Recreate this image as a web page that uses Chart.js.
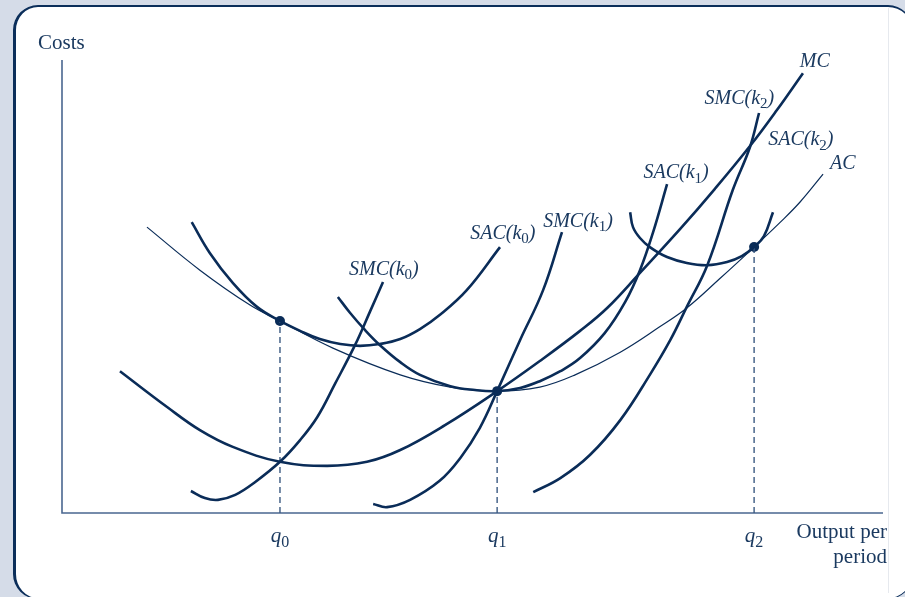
<!DOCTYPE html>
<html>
<head>
<meta charset="utf-8">
<script src="https://cdn.jsdelivr.net/npm/chart.js@4.4.0/dist/chart.umd.min.js"></script>
<style>
  html, body { margin: 0; padding: 0; }
  body { width: 905px; height: 597px; background: #d5dce8; position: relative; overflow: hidden; }
  #panel {
    position: absolute; left: 13px; top: 5px; width: 896px; height: 591px;
    background: #fff; border-style: solid; border-color: #0b2e5a;
    border-width: 2px 1px 1px 3px; border-radius: 25px;
  }
  #edge { position: absolute; left: 888px; top: 8px; width: 1px; height: 585px; background: #e6e9ee; }
  #chart { position: absolute; left: 0; top: 0; }
</style>
</head>
<body>
<div id="panel"></div>
<div id="edge"></div>
<canvas id="chart" width="905" height="597"></canvas>
<script>
// output (0-100) vs cost (0-100)
const acCurve = [[10.35,63.1],[16.8,53.6],[22.9,45.9],[26.55,42.4],[33.0,36.4],[41.2,30.5],[47.3,27.8],[53.0,26.9],[58.2,27.8],[62.5,30.5],[68.0,35.5],[72.8,41.1],[76.1,45.25],[80.1,51.7],[84.3,58.7],[87.5,64.2],[89.9,68.65],[92.7,74.8]];
const mcCurve = [[7.06,31.3],[12.8,23.4],[16.8,18.3],[20.8,14.6],[26.55,11.3],[32.3,10.4],[37.15,11.3],[41.2,13.9],[46.65,19.4],[53.0,26.9],[58.2,33.55],[63.1,40.2],[66.4,45.25],[70.4,53.0],[75.3,62.7],[79.5,71.5],[83.8,81.0],[87.1,89.0],[90.25,97.1]];
const sac0Curve = [[15.8,64.2],[18.0,57.4],[20.8,50.8],[23.75,45.5],[26.55,42.4],[29.0,40.2],[31.4,38.4],[33.9,37.3],[36.3,36.9],[38.7,37.3],[41.2,38.4],[43.6,40.6],[46.0,43.7],[49.3,49.2],[53.35,58.7]];
const smc0Curve = [[15.7,4.86],[17.4,3.3],[19.0,2.9],[21.1,4.0],[23.5,6.8],[26.55,11.3],[29.0,16.1],[31.1,21.2],[33.25,28.5],[35.7,37.1],[37.5,44.4],[39.1,51.0]];
const sac1Curve = [[33.6,47.7],[35.1,44.15],[36.9,40.4],[38.7,37.1],[41.2,33.3],[43.6,30.5],[47.3,28.0],[50.3,27.15],[53.0,26.9],[55.8,27.6],[58.2,29.1],[60.7,31.3],[63.1,34.2],[66.1,39.7],[68.6,46.6],[70.4,53.6],[72.0,62.0],[73.7,72.6]];
const smc1Curve = [[37.9,2.0],[39.6,1.3],[42.4,2.9],[46.0,7.1],[48.5,12.1],[50.9,18.8],[53.0,26.9],[55.8,38.2],[58.6,49.2],[60.9,62.0]];
const sac2Curve = [[69.2,66.4],[69.55,63.1],[70.4,60.7],[71.6,58.7],[73.7,56.5],[76.1,55.2],[78.6,54.7],[81.0,55.4],[82.8,56.7],[84.3,58.7],[85.5,61.1],[86.6,66.4]];
const smc2Curve = [[57.4,4.6],[60.7,7.7],[64.3,12.8],[68.0,20.5],[71.6,30.5],[74.1,38.2],[76.1,45.5],[78.6,54.7],[81.7,71.3],[83.8,80.8],[84.9,88.3]];

const qValues = [26.55, 53.0, 84.3];
const qNames = ['q_0', 'q_1', 'q_2'];
const dotCosts = [42.4, 26.9, 58.7];

const curveNames = ['MC', 'SMC(k_2)', 'SAC(k_2)', 'AC', 'SAC(k_1)', 'SAC(k_0)', 'SMC(k_1)', 'SMC(k_0)'];
const curveLabelAt = [[91.7,100],[82.5,91.8],[90.0,82.6],[95.1,77.5],[74.8,75.3],[53.7,62.0],[62.85,64.7],[39.2,54.1]];

const NAVY = '#0a2c58';
const TEXT = '#1b3a60';
const AXIS = '#4a6790';

const toPts = arr => arr.map(p => ({ x: p[0], y: p[1] }));

function curve(arr, width) {
  return {
    data: toPts(arr),
    borderColor: NAVY,
    borderWidth: width,
    pointRadius: 0,
    tension: 0.4,
    borderCapStyle: 'butt',
    fill: false
  };
}

const datasets = [
  curve(acCurve, 1.2),
  curve(mcCurve, 2.6),
  curve(sac0Curve, 2.6),
  curve(smc0Curve, 2.6),
  curve(sac1Curve, 2.6),
  curve(smc1Curve, 2.6),
  curve(sac2Curve, 2.6),
  curve(smc2Curve, 2.6)
];

// dashed drop lines from each tangency point
qValues.forEach((q, i) => {
  datasets.push({
    data: [{ x: q, y: 0 }, { x: q, y: dotCosts[i] }],
    borderColor: '#3b5a82',
    borderWidth: 1.4,
    borderDash: [6, 4],
    pointRadius: 0,
    fill: false
  });
});

datasets.push({
  data: qValues.map((q, i) => ({ x: q, y: dotCosts[i] })),
  showLine: false,
  pointRadius: 5,
  pointBackgroundColor: NAVY,
  pointBorderColor: NAVY,
  borderWidth: 0
});

// text with "_d" subscripts
function richText(ctx, str, x, yMid, size, style, align) {
  const parts = str.split(/_(\w)/);
  const mainFont = `${style} ${size}px "Liberation Serif"`;
  const subFont = `${Math.round(size * 0.74)}px "Liberation Serif"`;
  let total = 0;
  parts.forEach((t, i) => {
    ctx.font = i % 2 ? subFont : mainFont;
    total += ctx.measureText(t).width;
  });
  let cx = x;
  if (align === 'center') cx = x - total / 2;
  if (align === 'right') cx = x - total;
  const base = yMid + size * 0.33;
  ctx.textAlign = 'left';
  ctx.textBaseline = 'alphabetic';
  parts.forEach((t, i) => {
    ctx.font = i % 2 ? subFont : mainFont;
    ctx.fillText(t, cx, i % 2 ? base + size * 0.22 : base);
    cx += ctx.measureText(t).width;
  });
}

const diagramPlugin = {
  id: 'diagram',
  beforeDatasetsDraw(chart) {
    const { ctx, chartArea: a } = chart;
    ctx.save();
    ctx.strokeStyle = AXIS;
    ctx.lineWidth = 1.6;
    ctx.beginPath();
    ctx.moveTo(a.left, a.top);
    ctx.lineTo(a.left, a.bottom);
    ctx.lineTo(a.right, a.bottom);
    ctx.stroke();
    ctx.restore();
  },
  afterDatasetsDraw(chart) {
    const { ctx, chartArea: a, scales } = chart;
    ctx.save();
    ctx.fillStyle = TEXT;
    richText(ctx, 'Costs', a.left - 24, a.top - 18, 21, 'normal', 'left');
    richText(ctx, 'Output per', a.right + 4, a.bottom + 18, 21, 'normal', 'right');
    richText(ctx, 'period', a.right + 4, a.bottom + 43, 21, 'normal', 'right');
    qValues.forEach((q, i) => {
      richText(ctx, qNames[i], scales.x.getPixelForValue(q), a.bottom + 22, 21, 'italic', 'center');
    });
    curveNames.forEach((name, i) => {
      const p = curveLabelAt[i];
      richText(ctx, name, scales.x.getPixelForValue(p[0]), scales.y.getPixelForValue(p[1]), 20, 'italic', 'center');
    });
    ctx.restore();
  }
};

new Chart(document.getElementById('chart'), {
  type: 'line',
  data: { datasets },
  options: {
    responsive: false,
    animation: false,
    layout: { padding: { left: 62, right: 22, top: 60, bottom: 84 } },
    scales: {
      x: { type: 'linear', min: 0, max: 100, display: false },
      y: { type: 'linear', min: 0, max: 100, display: false }
    },
    plugins: { legend: { display: false }, tooltip: { enabled: false } }
  },
  plugins: [diagramPlugin]
});
</script>
</body>
</html>
